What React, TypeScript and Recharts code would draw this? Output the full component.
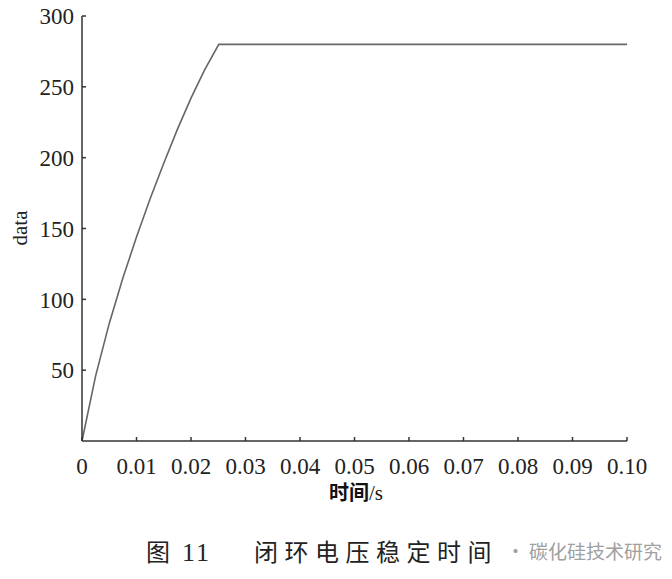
import { Line, LineChart, XAxis, YAxis } from "recharts";

// 时间 (s) and closed-loop voltage
const times = [0, 0.0025, 0.005, 0.0075, 0.01, 0.0125, 0.015, 0.0175, 0.02, 0.0225, 0.0251, 0.1];
const voltage = [0, 46, 83, 115, 144, 171, 196, 220, 242, 262, 280, 280];

const xTicks = [0, 0.01, 0.02, 0.03, 0.04, 0.05, 0.06, 0.07, 0.08, 0.09, 0.1];
const yTicks = [50, 100, 150, 200, 250, 300];

const data = times.map((t, i) => ({ t, v: voltage[i] }));

const serif = "Liberation Serif";
const cjk = "Noto Sans CJK SC";

const fmtX = (v: number) => (v === 0 ? "0" : v.toFixed(2));

function XTick(props: any) {
  const { x, y, payload } = props;
  return (
    <text
      x={x}
      y={y}
      dy="0.72em"
      textAnchor="middle"
      fill="#222"
      fontFamily={serif}
      fontSize={23}
      style={{ fontFamily: serif, fontSize: 23 }}
    >
      {fmtX(payload.value)}
    </text>
  );
}

function YTick(props: any) {
  const { x, y, payload } = props;
  return (
    <text
      x={x}
      y={y}
      dy="0.36em"
      textAnchor="end"
      fill="#222"
      fontFamily={serif}
      fontSize={23}
      style={{ fontFamily: serif, fontSize: 23 }}
    >
      {payload.value}
    </text>
  );
}

export default function App() {
  return (
    <div
      style={{
        position: "absolute",
        left: 0,
        top: 0,
        width: 672,
        height: 579,
        background: "#fff",
        fontFamily: serif,
      }}
    >
      <LineChart width={672} height={579} data={data} margin={{ top: 16, right: 45, bottom: 98, left: 0 }}>
        <XAxis
          dataKey="t"
          type="number"
          domain={[0, 0.1]}
          ticks={xTicks}
          height={40}
          tickSize={-4}
          tickMargin={20}
          interval={0}
          stroke="#333"
          strokeWidth={1.5}
          tick={<XTick />}
        />
        <YAxis
          type="number"
          domain={[0, 300]}
          ticks={yTicks}
          width={82}
          tickSize={-4}
          tickMargin={12}
          interval={0}
          stroke="#333"
          strokeWidth={1.5}
          tick={<YTick />}
        />
        <Line
          type="linear"
          dataKey="v"
          stroke="#666"
          strokeWidth={1.6}
          dot={false}
          isAnimationActive={false}
        />
      </LineChart>

      <div
        style={{
          position: "absolute",
          left: 20,
          top: 228,
          transform: "translate(-50%, -50%) rotate(-90deg)",
          fontFamily: serif,
          fontSize: 21,
          color: "#222",
          whiteSpace: "nowrap",
        }}
      >
        data
      </div>

      <div
        style={{
          position: "absolute",
          left: 356,
          top: 491,
          transform: "translate(-50%, -50%)",
          fontSize: 20,
          color: "#111",
          whiteSpace: "nowrap",
        }}
      >
        <span style={{ fontFamily: cjk, fontWeight: 700 }}>时间</span>
        <span style={{ fontFamily: serif, fontSize: 21 }}>/s</span>
      </div>

      <div
        style={{
          position: "absolute",
          left: 146,
          top: 550,
          transform: "translateY(-50%)",
          fontSize: 24,
          color: "#222",
          whiteSpace: "nowrap",
        }}
      >
        <span style={{ fontFamily: cjk }}>图</span>
        <span style={{ fontFamily: serif, fontSize: 26, marginLeft: 12, letterSpacing: 2 }}>11</span>
      </div>

      <div
        style={{
          position: "absolute",
          left: 254,
          top: 550,
          transform: "translateY(-50%)",
          fontFamily: cjk,
          fontSize: 24,
          color: "#222",
          whiteSpace: "nowrap",
          letterSpacing: 6.5,
        }}
      >
        闭环电压稳定时间
      </div>

      <div
        style={{
          position: "absolute",
          left: 506,
          top: 550,
          transform: "translateY(-50%)",
          fontFamily: cjk,
          fontSize: 19,
          color: "#a0a0a0",
          whiteSpace: "nowrap",
        }}
      >
        <span style={{ marginRight: 4 }}>·</span>碳化硅技术研究
      </div>
    </div>
  );
}
